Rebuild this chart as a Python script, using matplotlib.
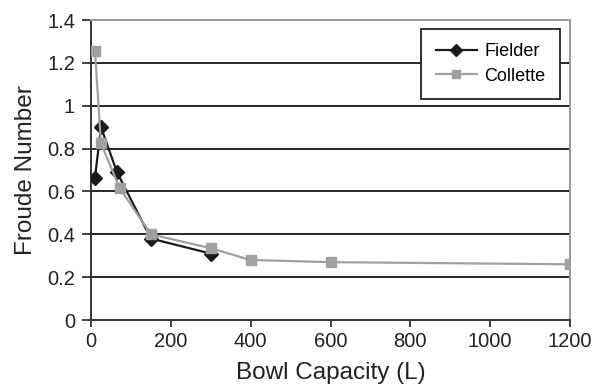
import matplotlib
matplotlib.use("Agg")
import matplotlib.pyplot as plt

fielder_x = [10, 25, 65, 150, 300]
fielder_y = [0.665, 0.90, 0.69, 0.38, 0.31]
collette_x = [10, 25, 72, 150, 300, 400, 600, 1200]
collette_y = [1.255, 0.825, 0.615, 0.40, 0.335, 0.28, 0.27, 0.26]
yticks = [0, 0.2, 0.4, 0.6, 0.8, 1, 1.2, 1.4]
ytick_labels = ["0", "0.2", "0.4", "0.6", "0.8", "1", "1.2", "1.4"]
xticks = [0, 200, 400, 600, 800, 1000, 1200]

plt.rcParams['font.family'] = ['Liberation Sans', 'DejaVu Sans']
fig = plt.figure(figsize=(5.94, 3.87), dpi=100)
ax = fig.add_axes([91/594, 67/387, 479/594, 300/387])

for y in yticks[1:-1]:
    ax.axhline(y, color='#262626', lw=1.4, zorder=1)

ax.plot(fielder_x, fielder_y, color='#1a1a1a', lw=1.6, marker='D', ms=7,
        label='Fielder', zorder=3)
ax.plot(collette_x, collette_y, color='#a0a0a0', lw=1.6, marker='s', ms=7,
        label='Collette', zorder=4)

ax.set_xlim(0, 1200)
ax.set_ylim(0, 1.4)
ax.set_xticks(xticks)
ax.set_yticks(yticks)
ax.set_yticklabels(ytick_labels)
ax.tick_params(axis='x', direction='out', length=5, width=1.3, color='#333333',
               labelsize=14.5, labelcolor='#222222', pad=3.5)
ax.tick_params(axis='y', direction='out', length=6.5, width=1.3, color='#333333',
               labelsize=14.5, labelcolor='#222222', pad=5)
for s in ['left', 'bottom']:
    ax.spines[s].set_color('#333333')
    ax.spines[s].set_linewidth(1.4)
for s in ['top', 'right']:
    ax.spines[s].set_color('#999999')
    ax.spines[s].set_linewidth(1.4)

ax.set_xlabel('Bowl Capacity (L)', fontsize=17.5, color='#222222', labelpad=8)
ax.set_ylabel('Froude Number', fontsize=17.5, color='#222222', labelpad=7)

leg = ax.legend(loc='upper right', bbox_to_anchor=(0.979, 0.97), fontsize=13,
                frameon=True, fancybox=False, edgecolor='#222222',
                handlelength=2.3, handletextpad=0.4, borderpad=0.8,
                labelspacing=0.4, markerscale=0.85, borderaxespad=0)
leg.get_frame().set_linewidth(1.3)
leg.get_frame().set_alpha(1)

fig.savefig('out.png', dpi=100)
